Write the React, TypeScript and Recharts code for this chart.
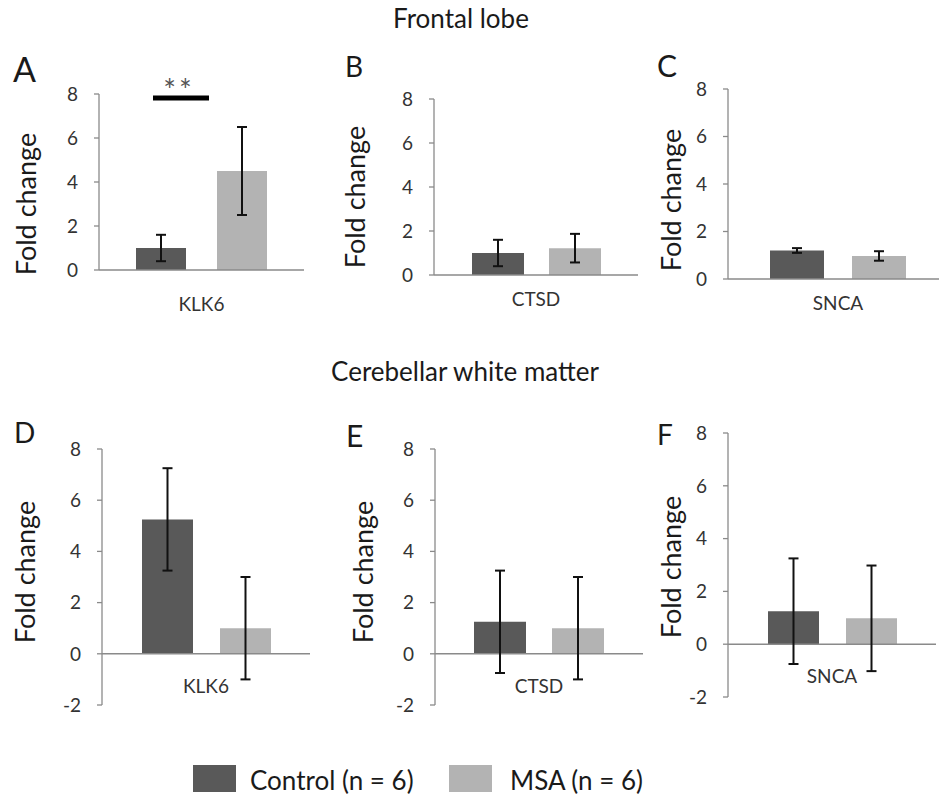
import React from 'react';
import { BarChart, Bar, XAxis, YAxis, ErrorBar, ReferenceLine } from 'recharts';

const genes = ['KLK6', 'CTSD', 'SNCA'];
const seriesNames = ['Control (n = 6)', 'MSA (n = 6)'];
const seriesColors = ['#595959', '#b3b3b3'];

// Frontal lobe (A-C)
const frontalControl = [1.0, 1.0, 1.2];
const frontalControlErr = [0.6, 0.6, 0.1];
const frontalMsa = [4.5, 1.22, 0.97];
const frontalMsaErr = [2.0, 0.65, 0.2];

// Cerebellar white matter (D-F)
const cerebellarControl = [5.25, 1.25, 1.25];
const cerebellarControlErr = [2.0, 2.0, 2.0];
const cerebellarMsa = [1.0, 1.0, 0.98];
const cerebellarMsaErr = [2.0, 2.0, 2.0];

const frontalTicks = [0, 2, 4, 6, 8];
const cerebellarTicks = [-2, 0, 2, 4, 6, 8];

const FONT = 'Lato, "Open Sans", sans-serif';
const AXIS = '#8a8a8a';
const YW = 70;
const MT = 22;
const XH = 55;

const frontalRows = genes.map((gene, i) => [
  { gene, control: frontalControl[i], controlErr: frontalControlErr[i], msa: frontalMsa[i], msaErr: frontalMsaErr[i] },
]);
const cerebellarRows = genes.map((gene, i) => [
  { gene, control: cerebellarControl[i], controlErr: cerebellarControlErr[i], msa: cerebellarMsa[i], msaErr: cerebellarMsaErr[i] },
]);

// plot-area boxes in page pixels
const panels = [
  { letter: 'A', row: frontalRows[0], ticks: frontalTicks, left: 99, right: 304, top: 94, bottom: 270, barSize: 50, barGap: 31, labelY: 311, letterX: 13, letterY: 82, letterSize: 34, yLabelX: 25, yLabelY: 204 },
  { letter: 'B', row: frontalRows[1], ticks: frontalTicks, left: 434, right: 638, top: 99, bottom: 275, barSize: 52, barGap: 25, labelY: 306, letterX: 345, letterY: 77, letterSize: 28, yLabelX: 354, yLabelY: 197 },
  { letter: 'C', row: frontalRows[2], ticks: frontalTicks, left: 728, right: 948, top: 89, bottom: 279, barSize: 54, barGap: 28, labelY: 310, letterX: 657, letterY: 77, letterSize: 30, yLabelX: 670, yLabelY: 200 },
  { letter: 'D', row: cerebellarRows[0], ticks: cerebellarTicks, left: 102, right: 310, top: 449, bottom: 705, barSize: 51, barGap: 27, labelY: 693, letterX: 14, letterY: 443, letterSize: 28, yLabelX: 24, yLabelY: 572 },
  { letter: 'E', row: cerebellarRows[1], ticks: cerebellarTicks, left: 435, right: 643, top: 449, bottom: 705, barSize: 52, barGap: 26, labelY: 693, letterX: 346, letterY: 447, letterSize: 30, yLabelX: 362, yLabelY: 572 },
  { letter: 'F', row: cerebellarRows[2], ticks: cerebellarTicks, left: 728, right: 936, top: 433, bottom: 697, barSize: 51, barGap: 27, labelY: 683, letterX: 657, letterY: 445, letterSize: 28, yLabelX: 670, yLabelY: 567 },
];

type PanelProps = { p: (typeof panels)[number] };

function Panel({ p }: PanelProps) {
  const width = p.right - p.left + YW;
  const height = p.bottom - p.top + MT + XH;
  const chartLeft = p.left - YW;
  const chartTop = p.top - MT;
  const ticks = p.ticks;

  return (
    <div style={{ position: 'absolute', left: chartLeft, top: chartTop }}>
      <BarChart
        width={width}
        height={height}
        data={p.row}
        margin={{ top: MT, right: 0, bottom: 0, left: 0 }}
        barGap={p.barGap}
      >
        <XAxis
          dataKey="gene"
          height={XH}
          axisLine={false}
          tickLine={false}
          interval={0}
          tick={({ x, payload }: any) => (
            <text x={x} y={p.labelY - chartTop} textAnchor="middle" fill="#333" fontSize={19} fontFamily={FONT}>
              {payload.value}
            </text>
          )}
        />
        <YAxis
          width={YW}
          domain={[ticks[0], ticks[ticks.length - 1]]}
          ticks={ticks}
          interval={0}
          tickSize={5}
          tickMargin={16}
          axisLine={{ stroke: AXIS, strokeWidth: 1.3 }}
          tickLine={{ stroke: AXIS, strokeWidth: 1.3 }}
          tick={{ fill: '#333', fontSize: 19, fontFamily: FONT }}
        />
        <ReferenceLine y={0} stroke={AXIS} strokeWidth={1.5} />
        <Bar dataKey="control" fill={seriesColors[0]} barSize={p.barSize} isAnimationActive={false}>
          <ErrorBar dataKey="controlErr" width={5} stroke="#111" strokeWidth={2} direction="y" />
        </Bar>
        <Bar dataKey="msa" fill={seriesColors[1]} barSize={p.barSize} isAnimationActive={false}>
          <ErrorBar dataKey="msaErr" width={5} stroke="#111" strokeWidth={2} direction="y" />
        </Bar>
      </BarChart>
    </div>
  );
}

export default function App() {
  return (
    <div
      style={{
        position: 'absolute',
        left: 0,
        top: 0,
        width: 939,
        height: 798,
        overflow: 'hidden',
        background: '#fff',
        fontFamily: FONT,
      }}
    >
      {panels.map((p) => (
        <Panel key={p.letter} p={p} />
      ))}

      <svg width={939} height={798} style={{ position: 'absolute', left: 0, top: 0, pointerEvents: 'none' }}>
        <text x={461} y={28} textAnchor="middle" fontSize={26} fill="#1a1a1a" fontFamily={FONT}>
          Frontal lobe
        </text>
        <text x={465} y={381} textAnchor="middle" fontSize={26} fill="#1a1a1a" fontFamily={FONT}>
          Cerebellar white matter
        </text>

        {panels.map((p) => (
          <g key={p.letter}>
            <text x={p.letterX} y={p.letterY} fontSize={p.letterSize} fill="#1a1a1a" fontFamily={FONT}>
              {p.letter}
            </text>
            <text
              x={p.yLabelX}
              y={p.yLabelY}
              transform={`rotate(-90, ${p.yLabelX}, ${p.yLabelY})`}
              textAnchor="middle"
              dominantBaseline="central"
              fontSize={27}
              fill="#1a1a1a"
              fontFamily={FONT}
            >
              Fold change
            </text>
          </g>
        ))}

        {/* significance marker, panel A */}
        <line x1={153} y1={98} x2={209} y2={98} stroke="#000" strokeWidth={5} />
        <text x={179} y={101} textAnchor="middle" fontSize={30} fill="#555" letterSpacing={3} fontFamily={FONT}>
          **
        </text>

        {/* legend */}
        <rect x={193} y={765} width={43} height={27} fill={seriesColors[0]} />
        <text x={250} y={790} fontSize={26} fill="#1a1a1a" fontFamily={FONT}>
          {seriesNames[0]}
        </text>
        <rect x={449} y={765} width={43} height={27} fill={seriesColors[1]} />
        <text x={510} y={790} fontSize={26} fill="#1a1a1a" fontFamily={FONT}>
          {seriesNames[1]}
        </text>
      </svg>
    </div>
  );
}
